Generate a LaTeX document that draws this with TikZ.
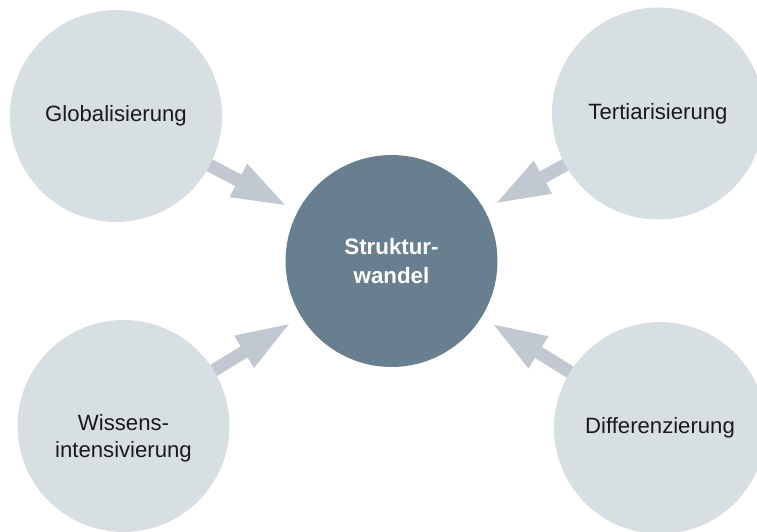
\documentclass[tikz,border=0pt]{standalone}
\usepackage{fontspec}
\setmainfont{Liberation Sans}
\usetikzlibrary{arrows.meta,backgrounds}

\definecolor{kreishell}{HTML}{D8DFE3}
\definecolor{kreisdunkel}{HTML}{687F90}
\definecolor{pfeilgrau}{HTML}{C2C8D1}
\definecolor{textdunkel}{HTML}{1A1A1A}

\begin{document}
\begin{tikzpicture}[x=0.02cm, y=-0.02cm,
    kreis/.style={circle, fill=kreishell, draw=none, minimum size=4.24cm,
        inner sep=0pt, align=center, text=textdunkel,
        font=\fontsize{12.6}{15.4}\selectfont},
    mitte/.style={kreis, fill=kreisdunkel, text=white,
        font=\fontsize{12.7}{16.5}\selectfont\bfseries},
    pfeil/.style={draw=pfeilgrau, line width=7.4pt,
        -{Triangle[width=19pt, length=32pt]}, shorten >=6pt}]

    % --- Rahmen (Pixelmass der Vorlage) ---
    \useasboundingbox (0,0) rectangle (757,531);
    \clip (0,0) rectangle (757,531);

    % --- 1. Kreise ---
    \node[mitte] (struktur) at (391.5,261) {Struktur-\\wandel};
    \node[kreis] (global) at (116,116) {Globalisierung};
    \node[kreis] (tertiar) at (658,113.5) {Tertiarisierung};
    \node[kreis, label={[font=\fontsize{12.6}{15.4}\selectfont, text=textdunkel,
        align=center, yshift=-7pt]center:Wissens-\\intensivierung}]
        (wissen) at (123.5,426) {};
    \node[kreis] (differenz) at (660,428) {Differenzierung};

    % --- 2. Pfeile hinter den Kreisen ---
    \begin{scope}[on background layer]
        \draw[pfeil] (global.center) -- (struktur);
        \draw[pfeil] (tertiar.center) -- (struktur);
        \draw[pfeil] (wissen.center) -- (struktur);
        \draw[pfeil] (differenz.center) -- (struktur);
    \end{scope}

\end{tikzpicture}
\end{document}
